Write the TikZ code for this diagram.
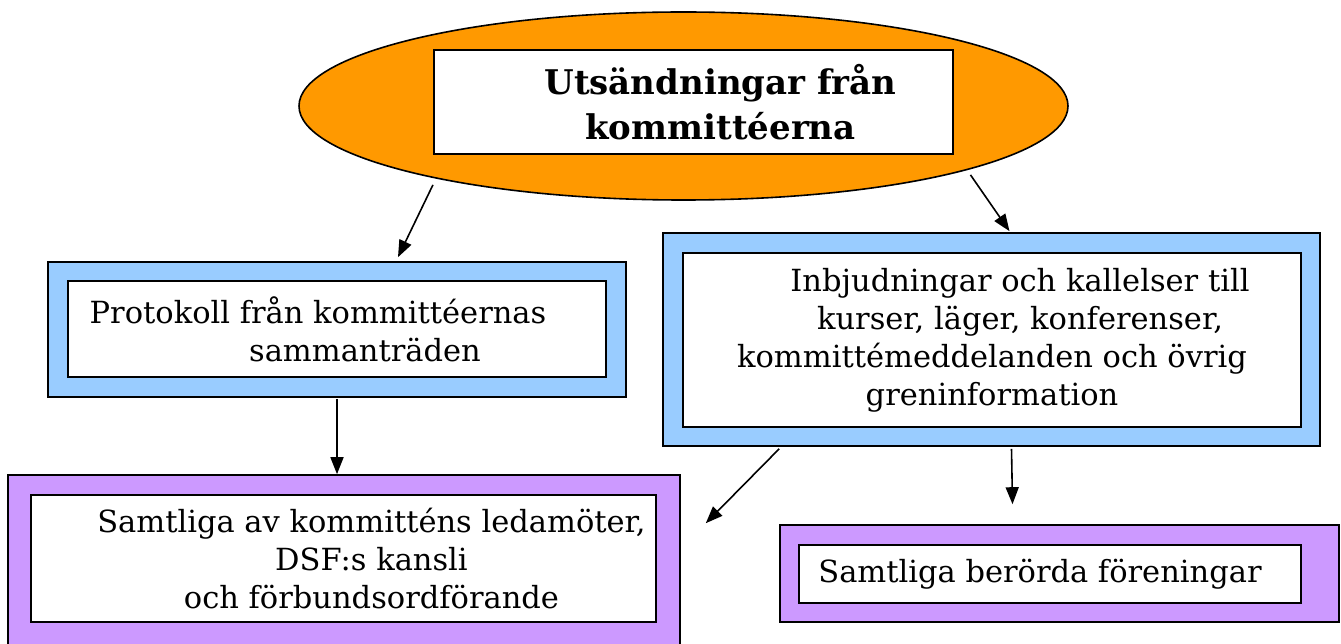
\documentclass[tikz,border=0pt]{standalone}
\usepackage{fontspec}
\setmainfont{DejaVu Serif}
\usetikzlibrary{shapes.geometric,arrows.meta}
\definecolor{orng}{HTML}{FF9900}
\definecolor{ltblue}{HTML}{99CCFF}
\definecolor{lilac}{HTML}{CC99FF}
\begin{document}
\begin{tikzpicture}[x=1pt,y=-1pt,>={Triangle[length=17pt,width=13pt]},
  outerbox/.style={draw,line width=1.6pt,inner sep=0pt},
  innerbox/.style={draw,fill=white,line width=1.6pt,inner sep=0pt,align=center,
    font=\fontsize{30.5}{38}\selectfont}]
\useasboundingbox (0,0) rectangle (1341,644);
\node [ellipse,draw,fill=orng,line width=1.6pt,minimum width=769pt,minimum height=188pt] (ell) at (683.5,106) {};
\node [innerbox,minimum width=519pt,minimum height=104pt,font=\fontsize{34}{45}\selectfont\bfseries] (ttl) at (693.5,102)
  {\hspace*{54pt}Utsändningar från\\ \hspace*{54pt}kommittéerna};
%
\node [outerbox,fill=ltblue,minimum width=578pt,minimum height=135pt] (prot) at (337,329.5) {};
\node [innerbox,minimum width=538pt,minimum height=96pt] (protin) at (337,329)
  {Protokoll från kommittéernas\hspace*{38pt}\\ \hspace*{56pt}sammanträden};
\node [outerbox,fill=ltblue,minimum width=657pt,minimum height=213pt] (inbj) at (991.5,339.5) {};
\node [innerbox,minimum width=618pt,minimum height=174pt] (inbjin) at (992,340)
  {\hspace*{56pt}Inbjudningar och kallelser till\\ \hspace*{56pt}kurser, läger, konferenser,\\
   kommittémeddelanden och övrig\\ greninformation};
%
\node [outerbox,fill=lilac,minimum width=672pt,minimum height=185pt] (leda) at (344,567.5) {};
\node [innerbox,minimum width=625pt,minimum height=127pt] (ledain) at (343.5,558.5)
  {\hspace*{56pt}Samtliga av kommitténs ledamöter,\\ \hspace*{56pt}DSF:s kansli\\
   \hspace*{56pt}och förbundsordförande};
\node [outerbox,fill=lilac,minimum width=559pt,minimum height=97pt] (fore) at (1059.5,573.5) {};
\node [innerbox,minimum width=502pt,minimum height=58pt] (forein) at (1050,574)
  {Samtliga berörda föreningar\hspace*{20pt}};
%
\draw [->,line width=1.6pt] ([xshift=-9pt,yshift=-5pt]ell.197.5) -- ([xshift=61pt,yshift=4pt]prot.north);
\draw [->,line width=1.6pt] ([xshift=6pt,yshift=-4pt]ell.-13.7) -- ([xshift=18pt,yshift=1pt]inbj.north);
\draw [->,line width=1.6pt] ([yshift=-1pt]prot.south) -- (prot.south |- leda.north);
\draw [->,line width=1.6pt] ([xshift=117pt,yshift=-2pt]inbj.south west) -- ([xshift=25pt,yshift=-49pt]leda.north east);
\draw [->,line width=1.6pt] ([xshift=20pt,yshift=-2pt]inbj.south) -- ([xshift=-47pt,yshift=20pt]fore.north);
\end{tikzpicture}
\end{document}
